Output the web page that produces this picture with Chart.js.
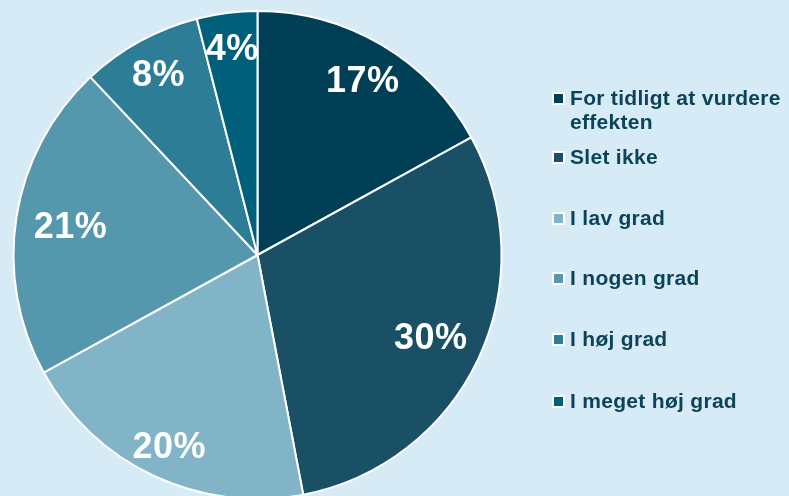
<!DOCTYPE html>
<html>
<head>
<meta charset="utf-8">
<script src="https://cdn.jsdelivr.net/npm/chart.js@4/dist/chart.umd.min.js"></script>
<style>
  html, body { margin: 0; padding: 0; background: #d7ebf7; }
  #wrap { width: 789px; height: 496px; position: relative; }
</style>
</head>
<body>
<div id="wrap"><canvas id="pieChart" width="789" height="496"></canvas></div>
<script>
// Chart data
const categories = [
    ["For tidligt at vurdere", "effekten"],
    ["Slet ikke"],
    ["I lav grad"],
    ["I nogen grad"],
    ["I høj grad"],
    ["I meget høj grad"]
];
const shares = [17, 30, 20, 21, 8, 4];
const sliceColors = ['#003f55', '#1a5065', '#80b4c6', '#5598ad', '#2d7d96', '#00607c'];

// how far out (fraction of radius) each percentage label sits
const labelRadius = [0.84, 0.78, 0.86, 0.78, 0.85, 0.86];

// Percentage labels inside slices
const sliceLabels = {
    id: 'sliceLabels',
    afterDatasetsDraw(chart) {
        const ctx = chart.ctx;
        const meta = chart.getDatasetMeta(0);
        ctx.save();
        ctx.fillStyle = '#ffffff';
        ctx.font = 'bold 36px "Liberation Sans", Arial, sans-serif';
        ctx.letterSpacing = '0.5px';
        ctx.textAlign = 'center';
        ctx.textBaseline = 'middle';
        meta.data.forEach((arc, i) => {
            const p = arc.getProps(['x', 'y', 'startAngle', 'endAngle', 'outerRadius']);
            const mid = (p.startAngle + p.endAngle) / 2;
            const r = p.outerRadius * labelRadius[i];
            ctx.fillText(shares[i] + '%', p.x + Math.cos(mid) * r + 1, p.y + Math.sin(mid) * r + 3);
        });
        ctx.restore();
    }
};

// Legend on the right, drawn by hand so the first label can wrap
const sideLegend = {
    id: 'sideLegend',
    afterDraw(chart) {
        const ctx = chart.ctx;
        const rows = [98, 157, 218, 278, 339, 401];
        ctx.save();
        ctx.font = 'bold 21px "Liberation Sans", Arial, sans-serif';
        ctx.letterSpacing = '0.3px';
        ctx.textBaseline = 'middle';
        categories.forEach((lines, i) => {
            const y = rows[i];
            ctx.fillStyle = '#ffffff';
            ctx.fillRect(552, y - 6, 13, 13);
            ctx.fillStyle = sliceColors[i];
            ctx.fillRect(554, y - 4, 9, 9);
            ctx.fillStyle = '#0b4459';
            lines.forEach((t, j) => ctx.fillText(t, 570, y + 1 + j * 24));
        });
        ctx.restore();
    }
};

new Chart(document.getElementById('pieChart'), {
    type: 'pie',
    data: {
        labels: categories.map(l => l.join(' ')),
        datasets: [{
            data: shares,
            backgroundColor: sliceColors,
            borderColor: '#ffffff',
            borderWidth: 2,
            clip: false
        }]
    },
    options: {
        responsive: false,
        animation: false,
        radius: 244,
        layout: { padding: { left: 13, right: 287, top: 14, bottom: 0 } },
        plugins: {
            legend: { display: false },
            tooltip: { enabled: false }
        },
        events: []
    },
    plugins: [sliceLabels, sideLegend]
});
</script>
</body>
</html>
